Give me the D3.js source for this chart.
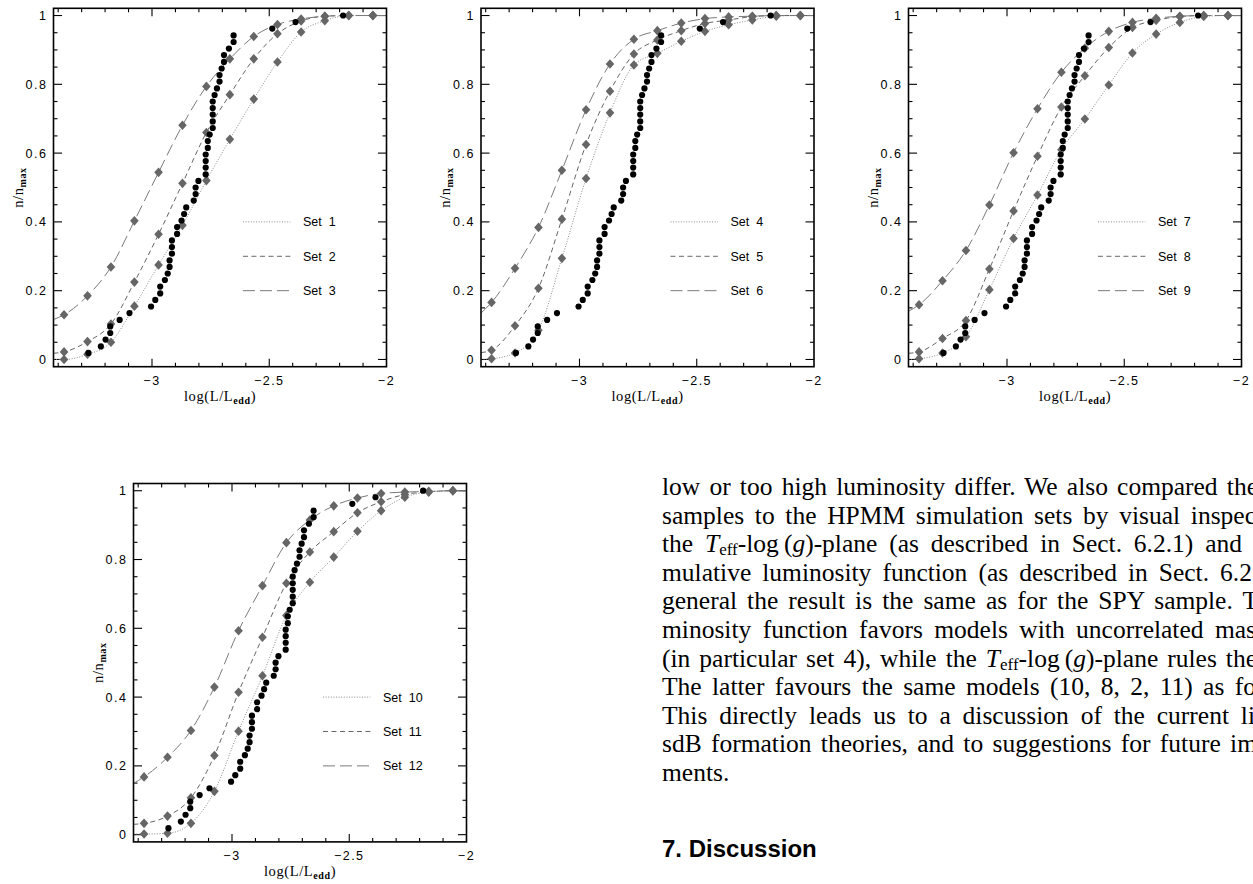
<!DOCTYPE html>
<html>
<head>
<meta charset="utf-8">
<script src="https://cdn.jsdelivr.net/npm/d3@7"></script>
<style>
body { margin: 0; background: #fff; }
svg { display: block; }
.tlab { font-family: "Liberation Sans", Arial, sans-serif; font-size: 12.5px; letter-spacing: 1.5px; fill: #000; }
.leg { font-family: "Liberation Sans", Arial, sans-serif; font-size: 12.5px; fill: #000; white-space: pre; }
.atitle { font-family: "Liberation Serif", "Times New Roman", serif; font-size: 14.5px; letter-spacing: 0.6px; fill: #000; }
.body { font-family: "Liberation Serif", "Times New Roman", serif; font-size: 25.5px; fill: #000; }
.head { font-family: "Liberation Sans", Arial, sans-serif; font-size: 24px; font-weight: bold; fill: #000; }
</style>
</head>
<body>
<div id="vis-div"></div>
<script>
'use strict'

// x position of the simulated bins (diamonds)
const binX = [-3.375, -3.275, -3.175, -3.075, -2.972, -2.870, -2.768, -2.668, -2.566, -2.465, -2.364, -2.263, -2.161, -2.058]

// cumulative n/nmax for each HPMM simulation set
const set1  = [0.000, 0.015, 0.050, 0.155, 0.275, 0.390, 0.520, 0.640, 0.757, 0.865, 0.952, 0.985, 1.000, 1.000]
const set2  = [0.022, 0.052, 0.103, 0.225, 0.364, 0.512, 0.660, 0.770, 0.874, 0.947, 0.984, 0.998, 1.000, 1.000]
const set3  = [0.130, 0.185, 0.269, 0.403, 0.544, 0.681, 0.794, 0.874, 0.939, 0.974, 0.990, 0.998, 1.000, 1.000]
const set4  = [0.002, 0.019, 0.085, 0.294, 0.526, 0.717, 0.856, 0.890, 0.925, 0.954, 0.973, 0.987, 0.998, 1.000]
const set5  = [0.027, 0.098, 0.207, 0.408, 0.625, 0.780, 0.888, 0.929, 0.956, 0.977, 0.987, 0.997, 1.000, 1.000]
const set6  = [0.166, 0.265, 0.384, 0.550, 0.726, 0.859, 0.931, 0.956, 0.978, 0.991, 0.996, 0.998, 1.000, 1.000]
const set7  = [0.002, 0.019, 0.066, 0.203, 0.352, 0.478, 0.610, 0.699, 0.798, 0.891, 0.946, 0.980, 0.997, 1.000]
const set8  = [0.022, 0.061, 0.113, 0.263, 0.432, 0.591, 0.734, 0.825, 0.907, 0.965, 0.986, 0.997, 1.000, 1.000]
const set9  = [0.159, 0.229, 0.317, 0.449, 0.601, 0.729, 0.835, 0.905, 0.954, 0.980, 0.992, 0.998, 1.000, 1.000]
const set10 = [0.002, 0.004, 0.033, 0.126, 0.301, 0.462, 0.637, 0.734, 0.807, 0.882, 0.942, 0.981, 0.996, 1.000]
const set11 = [0.033, 0.054, 0.107, 0.230, 0.414, 0.574, 0.731, 0.822, 0.881, 0.936, 0.968, 0.989, 0.997, 1.000]
const set12 = [0.168, 0.225, 0.303, 0.429, 0.593, 0.724, 0.849, 0.915, 0.956, 0.979, 0.992, 0.996, 0.998, 1.000]

// where each smoothed curve enters at the left frame edge
const edgeStart = [0.000, 0.018, 0.116, 0.000, 0.020, 0.135, 0.000, 0.018, 0.140, 0.002, 0.030, 0.149]

// observed sample (black dots)
const obsX = [-3.271, -3.218, -3.198, -3.178, -3.178, -3.138, -3.096, -3.004, -2.986, -2.965,
              -2.965, -2.945, -2.933, -2.925, -2.925, -2.915, -2.915, -2.915, -2.893, -2.893,
              -2.874, -2.863, -2.854, -2.822, -2.814, -2.814, -2.802, -2.771, -2.771, -2.771,
              -2.771, -2.762, -2.762, -2.754, -2.741, -2.741, -2.741, -2.741, -2.741, -2.733,
              -2.723, -2.712, -2.712, -2.703, -2.693, -2.693, -2.672, -2.652, -2.652, -2.487,
              -2.388, -2.185]
const obsY = [0.019, 0.038, 0.058, 0.077, 0.096, 0.115, 0.135, 0.154, 0.173, 0.192,
              0.212, 0.231, 0.250, 0.269, 0.288, 0.308, 0.327, 0.346, 0.365, 0.385,
              0.404, 0.423, 0.442, 0.462, 0.481, 0.500, 0.519, 0.538, 0.558, 0.577,
              0.596, 0.615, 0.635, 0.654, 0.673, 0.692, 0.712, 0.731, 0.750, 0.769,
              0.788, 0.808, 0.827, 0.846, 0.865, 0.885, 0.904, 0.923, 0.942, 0.962,
              0.981, 1.000]

const setNames = ["Set  1", "Set  2", "Set  3", "Set  4", "Set  5", "Set  6",
                  "Set  7", "Set  8", "Set  9", "Set  10", "Set  11", "Set  12"]
const legendY = [0.4, 0.3, 0.2]
const xTickLabels = [-3, -2.5, -2]
const yTickLabels = [0, 0.2, 0.4, 0.6, 0.8, 1]

const bodyLines = [
	"low or too high luminosity differ. We also compared the",
	"samples to the HPMM simulation sets by visual inspec",
	"the T_{eff}-log\u2009(*g*)-plane (as described in Sect. 6.2.1) and",
	"mulative luminosity function (as described in Sect. 6.2",
	"general the result is the same as for the SPY sample. T",
	"minosity function favors models with uncorrelated mas",
	"(in particular set 4), while the T_{eff}-log\u2009(*g*)-plane rules the",
	"The latter favours the same models (10, 8, 2, 11) as fo",
	"This directly leads us to a discussion of the current li",
	"sdB formation theories, and to suggestions for future im",
	"ments."
]
const bodyRight = [1258, 1256, 1242, 1252, 1258, 1256, 1257, 1256, 1255, 1257, null]

function wrapper(){

	let width = 1253
	let height = 884
	let allSets = [set1, set2, set3, set4, set5, set6, set7, set8, set9, set10, set11, set12]
	let dashes = ["1,1.6", "5,3.5", "12,5"]
	let lineColors = ["#8a8a8a", "#666", "#7a7a7a"]

	let svg = d3.select("#vis-div").append("svg")
		.attr("width", width)
		.attr("height", height)

	svg.append("rect").attr("width", width).attr("height", height).attr("fill", "#fff")

	let pw = 333, ph = 358.4
	let panels = [
		{left: 53.5, top: 8.3},
		{left: 481, top: 8.3},
		{left: 908.5, top: 8.3},
		{left: 133.5, top: 483.5}
	]

	let diamond = "M0,-4.8L4.3,0L0,4.8L-4.3,0Z"

	panels.forEach(function(p, pi){
		let x = d3.scaleLinear().domain([-3.42, -2]).range([0, pw])
		let y = d3.scaleLinear().domain([-0.021, 1.021]).range([ph, 0])

		let g = svg.append("g").attr("transform", "translate(" + p.left + "," + p.top + ")")

		g.append("clipPath").attr("id", "clip" + pi)
			.append("rect").attr("width", pw).attr("height", ph)

		// ticks, all four sides
		let minorX = d3.range(-3.4, -2.05, 0.1).map(function(v){ return Math.round(v * 10) / 10 })
		let minorY = d3.range(0, 1.001, 0.05).map(function(v){ return Math.round(v * 100) / 100 })

		let ticks = g.append("g").attr("stroke", "#000").attr("stroke-width", 1.1)
		minorX.forEach(function(v){
			let major = Math.abs(v * 2 - Math.round(v * 2)) < 1e-6
			let len = major ? 8 : 4
			ticks.append("line").attr("x1", x(v)).attr("x2", x(v)).attr("y1", ph).attr("y2", ph - len)
			ticks.append("line").attr("x1", x(v)).attr("x2", x(v)).attr("y1", 0).attr("y2", len)
		})
		minorY.forEach(function(v){
			let major = Math.abs(v * 5 - Math.round(v * 5)) < 1e-6
			let len = major ? 8.5 : 4
			ticks.append("line").attr("x1", 0).attr("x2", len).attr("y1", y(v)).attr("y2", y(v))
			ticks.append("line").attr("x1", pw).attr("x2", pw - len).attr("y1", y(v)).attr("y2", y(v))
		})

		// tick labels
		g.selectAll(".xl").data(xTickLabels).enter().append("text")
			.attr("class", "tlab")
			.attr("x", function(d){ return x(d) })
			.attr("y", ph + 18.5)
			.attr("text-anchor", "middle")
			.text(function(d){ return d3.format("")(d).replace("-", "\u2212") })

		g.selectAll(".yl").data(yTickLabels).enter().append("text")
			.attr("class", "tlab")
			.attr("x", -6)
			.attr("y", function(d){ return y(d) })
			.attr("dy", "0.36em")
			.attr("text-anchor", "end")
			.text(function(d){ return d3.format("")(d) })

		// axis titles
		let xt = g.append("text").attr("class", "atitle")
			.attr("x", pw / 2).attr("y", ph + 34.5).attr("text-anchor", "middle")
		xt.append("tspan").text("log(L/L")
		xt.append("tspan").attr("font-size", "10px").attr("font-weight", "bold").attr("dy", 3).text("edd")
		xt.append("tspan").attr("dy", -3).text(")")

		let yt = g.append("text").attr("class", "atitle")
			.attr("transform", "translate(" + (-31) + "," + (ph / 2) + ") rotate(-90)")
			.attr("text-anchor", "middle")
		yt.append("tspan").text("n/n")
		yt.append("tspan").attr("font-size", "10px").attr("font-weight", "bold").attr("dy", 3).text("max")

		// curves
		let curve = d3.line()
			.x(function(d){ return x(d[0]) })
			.y(function(d){ return y(d[1]) })
			.curve(d3.curveMonotoneX)

		let cg = g.append("g").attr("clip-path", "url(#clip" + pi + ")")
		for (let k = 0; k < 3; k++){
			let si = pi * 3 + k
			let pts = [[-3.42, edgeStart[si]]].concat(binX.map(function(bx, i){ return [bx, allSets[si][i]] }))
			pts.push([-2, 1])
			cg.append("path").datum(pts)
				.attr("d", curve)
				.attr("fill", "none")
				.attr("stroke", lineColors[k])
				.attr("stroke-width", 1)
				.attr("stroke-dasharray", dashes[k])
		}
		for (let k = 0; k < 3; k++){
			let si = pi * 3 + k
			cg.selectAll(".dm" + k).data(allSets[si]).enter().append("path")
				.attr("d", diamond)
				.attr("fill", "#666")
				.attr("transform", function(d, i){ return "translate(" + x(binX[i]) + "," + y(d) + ")" })
		}

		// observed sample
		cg.selectAll(".obs").data(obsX).enter().append("circle")
			.attr("cx", function(d){ return x(d) })
			.attr("cy", function(d, i){ return y(obsY[i]) })
			.attr("r", 3.1)
			.attr("fill", "#000")

		// legend
		for (let k = 0; k < 3; k++){
			let si = pi * 3 + k
			g.append("line")
				.attr("x1", x(-2.612)).attr("x2", x(-2.41))
				.attr("y1", y(legendY[k])).attr("y2", y(legendY[k]))
				.attr("stroke", lineColors[k])
				.attr("stroke-width", 1)
				.attr("stroke-dasharray", dashes[k])
			g.append("text").attr("class", "leg")
				.attr("x", x(-2.356)).attr("y", y(legendY[k])).attr("dy", "0.36em")
				.text(setNames[si])
		}

		// frame
		g.append("rect").attr("width", pw).attr("height", ph)
			.attr("fill", "none").attr("stroke", "#000").attr("stroke-width", 1.6)
	})

	// running text of the page
	let tx = 662, ty0 = 495, lh = 28.6
	bodyLines.forEach(function(line, li){
		let t = svg.append("text").attr("class", "body").attr("x", tx).attr("y", ty0 + li * lh)
		let parts = line.split(/(T_\{eff\}|\*g\*)/)
		let pendingDy = 0
		parts.forEach(function(s){
			if (s === "T_{eff}"){
				t.append("tspan").attr("font-style", "italic").text("T")
				t.append("tspan").attr("font-size", "17px").attr("dy", 3).text("eff")
				pendingDy = -3
			} else if (s === "*g*"){
				t.append("tspan").attr("font-style", "italic").attr("dy", pendingDy || null).text("g")
				pendingDy = 0
			} else if (s.length){
				t.append("tspan").attr("dy", pendingDy || null).text(s)
				pendingDy = 0
			}
		})
		if (bodyRight[li] != null){
			let natural = t.node().getComputedTextLength()
			let spaces = (line.match(/ /g) || []).length
			let extra = (bodyRight[li] - tx - natural) / spaces
			t.attr("word-spacing", extra.toFixed(2))
		}
	})

	svg.append("text").attr("class", "head").attr("x", tx).attr("y", 857).text("7. Discussion")
}

wrapper();
</script>
</body>
</html>
